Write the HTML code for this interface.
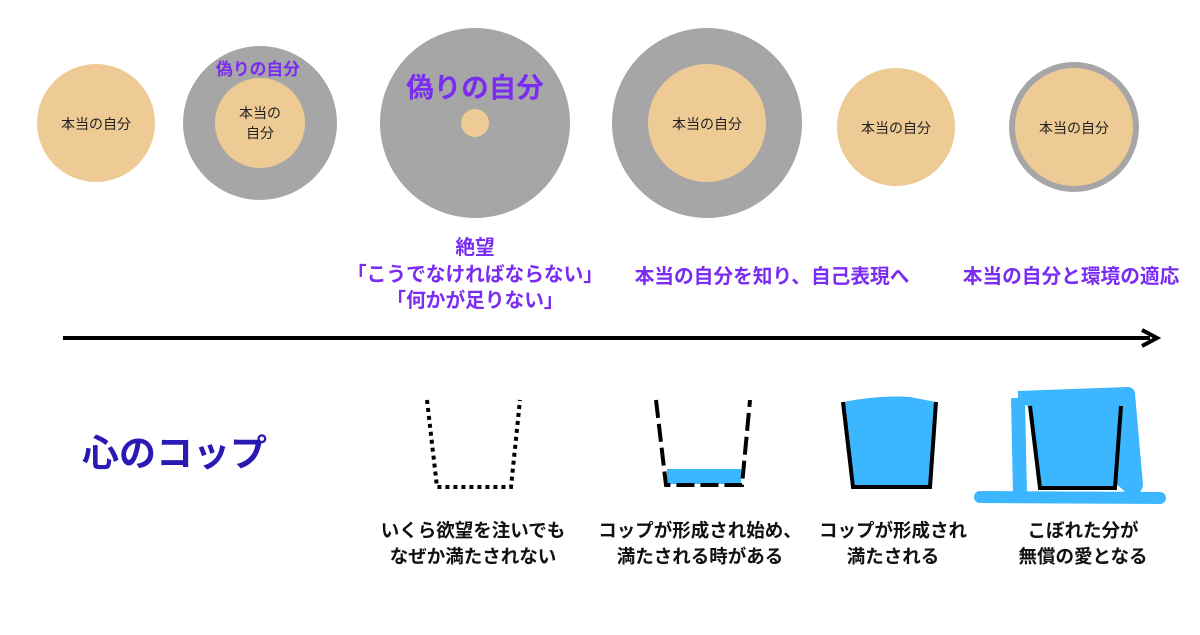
<!DOCTYPE html>
<html><head><meta charset="utf-8"><style>
body{margin:0;width:1200px;height:630px;background:#fff;overflow:hidden;}
svg text{font-family:"Liberation Sans","Noto Sans CJK JP",sans-serif;font-weight:bold;}
</style></head><body>
<svg width="1200" height="630" viewBox="0 0 1200 630">
<g fill="#eecb94">
<circle cx="96" cy="123" r="59"/>
<circle cx="260" cy="123" r="77" fill="#a6a6a6"/>
<circle cx="260" cy="123" r="45"/>
<circle cx="475" cy="123" r="95" fill="#a6a6a6"/>
<circle cx="475" cy="123" r="14"/>
<circle cx="707" cy="123" r="95" fill="#a6a6a6"/>
<circle cx="707" cy="123" r="59"/>
<circle cx="896" cy="127" r="59"/>
<circle cx="1074" cy="127" r="65" fill="#a6a6a6"/>
<circle cx="1074" cy="127" r="59"/>
</g>
<g font-size="14" fill="#222" text-anchor="middle">
<text x="96" y="129" style="font-weight:normal">本当の自分</text>
<text x="260" y="118" style="font-weight:normal">本当の</text>
<text x="260" y="138" style="font-weight:normal">自分</text>
<text x="707" y="129" style="font-weight:normal">本当の自分</text>
<text x="896" y="133" style="font-weight:normal">本当の自分</text>
<text x="1074" y="133" style="font-weight:normal">本当の自分</text>
</g>
<g fill="#7a2cf2" text-anchor="middle">
<text x="258" y="75" font-size="16.8">偽りの自分</text>
<text x="475" y="97" font-size="27.5">偽りの自分</text>
<text x="475" y="254" font-size="19.7">絶望</text>
<text x="475" y="281" font-size="19.7">「こうでなければならない」</text>
<text x="475" y="307" font-size="19.7">「何かが足りない」</text>
<text x="772" y="283" font-size="19.7">本当の自分を知り、自己表現へ</text>
<text x="1071" y="283" font-size="19.7">本当の自分と環境の適応</text>
</g>
<line x1="63" y1="338" x2="1150" y2="338" stroke="#000" stroke-width="4"/>
<path d="M1142,330 L1157,338 L1142,346" fill="none" stroke="#000" stroke-width="4"/>
<text x="82" y="466" font-size="37" fill="#2a19b3">心のコップ</text>
<g fill="none" stroke="#000" stroke-width="4">
<path d="M427,400 L437,487 L511,487 L520,400" stroke-dasharray="4,4"/>
<rect x="667" y="469" width="74" height="15" fill="#3bb6ff" stroke="none"/>
<path d="M656,400 L666,485 L742,485 L750,400" stroke-dasharray="18,6"/>
<path d="M843,402 L853,487 L930,487 L936,402" fill="#3bb6ff"/>
<path d="M843,402 Q880,395 910,397 L936,402" fill="#3bb6ff" stroke="none"/>
<path d="M1018,398 L1128,394 L1136,485 L1130,496" fill="#3bb6ff" stroke="#3bb6ff" stroke-width="14" stroke-linejoin="round"/>
<path d="M1018,398 L1020,496" stroke="#3bb6ff" stroke-width="14"/>
<path d="M980,497 L1160,498" stroke="#3bb6ff" stroke-width="12" stroke-linecap="round"/>
<path d="M1030,406 L1040,488 L1115,488 L1121,406" fill="#3bb6ff"/>
</g>
<g font-size="18.5" fill="#111" text-anchor="middle">
<text x="473" y="537">いくら欲望を注いでも</text>
<text x="473" y="563">なぜか満たされない</text>
<text x="700" y="537">コップが形成され始め、</text>
<text x="700" y="563">満たされる時がある</text>
<text x="893" y="537">コップが形成され</text>
<text x="893" y="563">満たされる</text>
<text x="1083" y="537">こぼれた分が</text>
<text x="1083" y="563">無償の愛となる</text>
</g>
</svg>
</body></html>
